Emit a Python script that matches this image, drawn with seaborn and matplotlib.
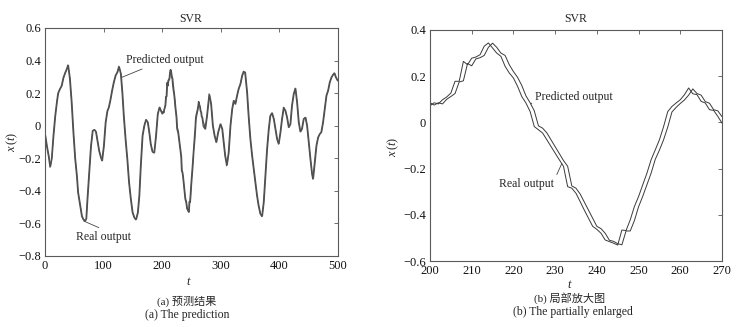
import numpy as np
import pandas as pd
import matplotlib
matplotlib.use("Agg")
import matplotlib.pyplot as plt
from matplotlib.ticker import FuncFormatter, MultipleLocator
import seaborn as sns

# ---- series: real output (knots for t < 200 and t > 270, unit steps inside) ----
real_t_pre = [0, 3, 6, 8.5, 11, 14, 17, 20, 22, 25, 28, 31, 34, 37, 39, 42, 45, 48, 51, 54,
              56, 60, 62.5, 65, 68, 70, 72, 75, 78, 81, 84, 86.5, 89, 92, 95, 97, 100, 103,
              106, 108.5, 111, 114, 117, 120, 123, 126, 129, 131.5, 134, 137, 140, 143, 146,
              149, 152, 155, 158, 160.5, 163, 166, 169, 172, 175, 177.5, 180, 183, 186, 189,
              192, 195, 197, 199]
real_v_pre = [-0.06, -0.13, -0.19, -0.255, -0.21, -0.06, 0.06, 0.15, 0.2, 0.225, 0.245, 0.295,
              0.325, 0.35, 0.373, 0.29, 0.145, -0.04, -0.2, -0.31, -0.41, -0.5, -0.555, -0.575,
              -0.585, -0.575, -0.45, -0.29, -0.125, -0.03, -0.025, -0.037, -0.09, -0.155,
              -0.195, -0.215, -0.125, 0.02, 0.09, 0.113, 0.155, 0.215, 0.267, 0.308, 0.328,
              0.365, 0.318, 0.205, 0.06, -0.082, -0.205, -0.35, -0.45, -0.533, -0.564, -0.578,
              -0.533, -0.43, -0.246, -0.062, 0.0, 0.037, 0.02, -0.041, -0.113, -0.16, -0.168,
              -0.062, 0.072, 0.113, 0.095, 0.08]

zoom_t = list(range(200, 271))
real_zoom = [0.072, 0.085, 0.08, 0.098, 0.11, 0.127, 0.178, 0.178, 0.264, 0.25, 0.278, 0.283,
             0.293, 0.33, 0.344, 0.322, 0.30, 0.286, 0.243, 0.214, 0.192, 0.156, 0.112, 0.084,
             0.047, -0.018, -0.032, -0.046, -0.075, -0.104, -0.133, -0.162, -0.19, -0.278,
             -0.285, -0.307, -0.343, -0.38, -0.415, -0.45, -0.463, -0.48, -0.509, -0.516,
             -0.523, -0.531, -0.466, -0.468, -0.422, -0.364, -0.321, -0.27, -0.22, -0.162,
             -0.119, -0.075, -0.018, 0.047, 0.069, 0.084, 0.098, 0.12, 0.149, 0.124, 0.12,
             0.091, 0.084, 0.055, 0.052, 0.026, -0.003]
pred_zoom = [0.085, 0.075, 0.085, 0.08, 0.10, 0.112, 0.125, 0.175, 0.18, 0.255, 0.245, 0.275,
             0.28, 0.29, 0.325, 0.343, 0.325, 0.30, 0.29, 0.25, 0.22, 0.195, 0.16, 0.115,
             0.085, 0.05, -0.015, -0.025, -0.045, -0.075, -0.105, -0.135, -0.165, -0.19,
             -0.275, -0.285, -0.31, -0.345, -0.38, -0.415, -0.45, -0.46, -0.48, -0.51, -0.515,
             -0.525, -0.53, -0.47, -0.47, -0.425, -0.365, -0.32, -0.27, -0.22, -0.16, -0.12,
             -0.075, -0.02, 0.045, 0.065, 0.082, 0.097, 0.118, 0.145, 0.125, 0.118, 0.09,
             0.083, 0.055, 0.05, 0.025]

real_t_post = [273, 276, 280, 283, 286, 289, 292, 295, 299, 302, 304.5, 307, 310, 313, 316,
               319, 321.6, 324.4, 327.3, 330, 333, 336, 338.7, 341, 344.4, 347, 350, 353,
               355.7, 358.6, 361.4, 364, 367, 370, 372.8, 375.7, 378.5, 381.4, 384, 387, 390,
               392.7, 395.6, 398.4, 401.3, 404, 407, 409.8, 412.6, 415.5, 418.3, 421, 424,
               426.9, 429.7, 432.6, 435.4, 438, 441, 444, 446.8, 449.6, 452.5, 455.3, 457,
               459.9, 462.7, 465.6, 468.4, 471, 474, 477, 479.8, 482.6, 485.5, 488.4, 491,
               493.5, 496, 499, 500]
real_v_post = [-0.02, 0.06, 0.195, 0.133, 0.0, -0.062, -0.103, -0.041, 0.01, -0.02, -0.103,
               -0.185, -0.246, -0.164, 0.0, 0.103, 0.154, 0.133, 0.185, 0.226, 0.256, 0.308,
               0.334, 0.328, 0.205, 0.06, -0.082, -0.185, -0.267, -0.35, -0.43, -0.49, -0.54,
               -0.558, -0.47, -0.308, -0.144, -0.02, 0.06, 0.078, 0.041, -0.02, -0.082, -0.113,
               -0.041, 0.041, 0.113, 0.092, 0.051, -0.01, 0.01, 0.123, 0.195, 0.23, 0.144,
               0.02, -0.037, -0.02, 0.041, 0.051, 0.0, -0.103, -0.205, -0.297, -0.328, -0.226,
               -0.123, -0.072, -0.051, -0.041, 0.02, 0.103, 0.185, 0.215, 0.267, 0.297, 0.312,
               0.324, 0.297, 0.277, 0.275]

# ---- series: predicted output (lags the real output by about one step) ----
pred_t_pre = [1, 4, 7, 9.5, 12, 15, 18, 21, 23, 26, 29, 32, 35, 38, 40, 43, 46, 49, 52, 55,
              57, 61, 63.5, 66, 69, 71, 73, 76, 79, 82, 85, 87.5, 90, 93, 96, 98, 101, 104,
              107, 109.5, 112, 115, 118, 121, 124, 127, 130, 132.5, 135, 138, 141, 144, 147,
              150, 153, 156, 159, 161.5, 164, 167, 170, 173, 176, 178.5, 181, 184, 187, 190,
              193, 196, 198, 199]
pred_v_pre = [-0.06, -0.13, -0.19, -0.25, -0.2, -0.06, 0.06, 0.15, 0.2, 0.225, 0.245, 0.295,
              0.325, 0.35, 0.37, 0.29, 0.145, -0.04, -0.2, -0.31, -0.41, -0.5, -0.555, -0.575,
              -0.585, -0.57, -0.45, -0.29, -0.125, -0.03, -0.025, -0.037, -0.09, -0.155,
              -0.195, -0.215, -0.125, 0.02, 0.09, 0.113, 0.155, 0.215, 0.267, 0.308, 0.328,
              0.36, 0.318, 0.205, 0.06, -0.082, -0.205, -0.35, -0.45, -0.533, -0.564, -0.575,
              -0.533, -0.43, -0.246, -0.062, 0.0, 0.037, 0.02, -0.041, -0.113, -0.16, -0.165,
              -0.062, 0.072, 0.113, 0.095, 0.088]
pred_t_post = [274, 277, 281, 284, 287, 290, 293, 296, 300, 303, 305.5, 308, 311, 314, 317,
               320, 322.6, 325.4, 328.3, 331, 334, 337, 339.7, 342, 345.4, 348, 351, 354,
               356.7, 359.6, 362.4, 365, 368, 371, 373.8, 376.7, 379.5, 382.4, 385, 388, 391,
               393.7, 396.6, 399.4, 402.3, 405, 408, 410.8, 413.6, 416.5, 419.3, 422, 425,
               427.9, 430.7, 433.6, 436.4, 439, 442, 445, 447.8, 450.6, 453.5, 456.3, 458,
               460.9, 463.7, 466.6, 469.4, 472, 475, 478, 480.8, 483.6, 486.5, 489.4, 492,
               494.5, 497, 500]
pred_v_post = [-0.02, 0.06, 0.19, 0.133, 0.0, -0.062, -0.1, -0.041, 0.01, -0.02, -0.103,
               -0.185, -0.24, -0.164, 0.0, 0.103, 0.154, 0.133, 0.185, 0.226, 0.256, 0.308,
               0.33, 0.328, 0.205, 0.06, -0.082, -0.185, -0.267, -0.35, -0.43, -0.49, -0.54,
               -0.555, -0.47, -0.308, -0.144, -0.02, 0.06, 0.078, 0.041, -0.02, -0.082, -0.11,
               -0.041, 0.041, 0.11, 0.092, 0.051, -0.01, 0.01, 0.123, 0.195, 0.228, 0.144,
               0.02, -0.037, -0.02, 0.041, 0.051, 0.0, -0.103, -0.205, -0.297, -0.325, -0.226,
               -0.123, -0.072, -0.051, -0.041, 0.02, 0.103, 0.185, 0.215, 0.267, 0.297, 0.312,
               0.322, 0.297, 0.277]

title = "SVR"
caption_cn = ["(a) 预测结果", "(b) 局部放大图"]
caption_en = ["(a) The prediction", "(b) The partially enlarged"]

# ---- styling ----
sns.set_theme(style="white")
SERIF = "Liberation Serif"
plt.rcParams["font.family"] = [SERIF, "Noto Sans CJK SC", "DejaVu Sans"]
plt.rcParams["mathtext.fontset"] = "custom"
plt.rcParams["mathtext.rm"] = SERIF
plt.rcParams["mathtext.it"] = SERIF + ":italic"
plt.rcParams["axes.unicode_minus"] = True

W, H = 752, 327
fig = plt.figure(figsize=(W / 100, H / 100), dpi=100)


def px_axes(left, top, right, bottom):
    return fig.add_axes([left / W, 1 - bottom / H, (right - left) / W, (bottom - top) / H])


ax1 = px_axes(45, 28, 338, 256)
ax2 = px_axes(430, 30, 722, 261)

full = pd.concat([
    pd.DataFrame({"t": real_t_pre + zoom_t + real_t_post,
                  "x": real_v_pre + real_zoom + real_v_post, "series": "Real output"}),
    pd.DataFrame({"t": pred_t_pre + zoom_t + pred_t_post,
                  "x": pred_v_pre + pred_zoom + pred_v_post, "series": "Predicted output"}),
])
part = pd.concat([
    pd.DataFrame({"t": zoom_t, "x": real_zoom, "series": "Real output"}),
    pd.DataFrame({"t": zoom_t, "x": pred_zoom, "series": "Predicted output"}),
])

for name in ["Predicted output", "Real output"]:
    d = full[full.series == name]
    sns.lineplot(data=d, x="t", y="x", ax=ax1, color="#505050", linewidth=0.9,
                 estimator=None, sort=False, legend=False)
    d = part[part.series == name]
    sns.lineplot(data=d, x="t", y="x", ax=ax2, color="#3a3a3a", linewidth=0.7,
                 estimator=None, sort=False, legend=False)

fmt = FuncFormatter(lambda v, p: ("%g" % round(v, 3)).replace("-", "\u2212"))

ax1.set_xlim(0, 500)
ax1.set_ylim(-0.8, 0.6)
ax1.xaxis.set_major_locator(MultipleLocator(100))
ax1.yaxis.set_major_locator(MultipleLocator(0.2))
ax2.set_xlim(200, 270)
ax2.set_ylim(-0.6, 0.4)
ax2.xaxis.set_major_locator(MultipleLocator(10))
ax2.yaxis.set_major_locator(MultipleLocator(0.2))

for ax in (ax1, ax2):
    ax.set_xlabel("")
    ax.set_ylabel("")
    ax.yaxis.set_major_formatter(fmt)
    ax.xaxis.set_major_formatter(fmt)
    ax.tick_params(direction="in", top=True, right=True, length=3, width=0.6,
                   color="#555555", labelsize=9, labelcolor="#111111", pad=3)
    for s in ax.spines.values():
        s.set_color("#5a5a5a")
        s.set_linewidth(0.8)
        s.set_visible(True)

# annotations with leader lines
ax1.annotate("Predicted output", xy=(131, 0.297), xytext=(138, 0.405),
             fontsize=8.5, va="center", ha="left",
             arrowprops=dict(arrowstyle="-", color="#444444", lw=0.6, shrinkA=0, shrinkB=0))
ax1.annotate("Real output", xy=(66, -0.585), xytext=(53, -0.683),
             fontsize=8.5, va="center", ha="left",
             arrowprops=dict(arrowstyle="-", color="#444444", lw=0.6, shrinkA=0, shrinkB=0,
                             relpos=(0.55, 1.0)))
ax2.annotate("Predicted output", xy=(224.2, 0.08), xytext=(225.2, 0.112),
             fontsize=8.5, va="center", ha="left",
             arrowprops=dict(arrowstyle="-", color="#444444", lw=0.6, shrinkA=0, shrinkB=0,
                             relpos=(0.0, 0.2)))
ax2.annotate("Real output", xy=(231.6, -0.178), xytext=(216.6, -0.266),
             fontsize=8.5, va="center", ha="left",
             arrowprops=dict(arrowstyle="-", color="#444444", lw=0.6, shrinkA=0, shrinkB=0,
                             relpos=(1.0, 0.8)))


def ftext(x, y, s, **kw):
    fig.text(x / W, 1 - y / H, s, ha="center", va="center", **kw)


ftext(191, 19, title, fontsize=8.5)
ftext(576, 19, title, fontsize=8.5)
ftext(189, 282, "$t$", fontsize=9)
ftext(570, 285, "$t$", fontsize=9)
ftext(12, 142, "$x\\,(t)$", fontsize=9, rotation=90)
ftext(393, 147, "$x\\,(t)$", fontsize=9, rotation=90)
ftext(187, 301, caption_cn[0], fontsize=8)
ftext(187, 315, caption_en[0], fontsize=8.5)
ftext(570, 298, caption_cn[1], fontsize=8)
ftext(573, 312, caption_en[1], fontsize=8.5)

fig.savefig("out.png", dpi=100, facecolor="white")
